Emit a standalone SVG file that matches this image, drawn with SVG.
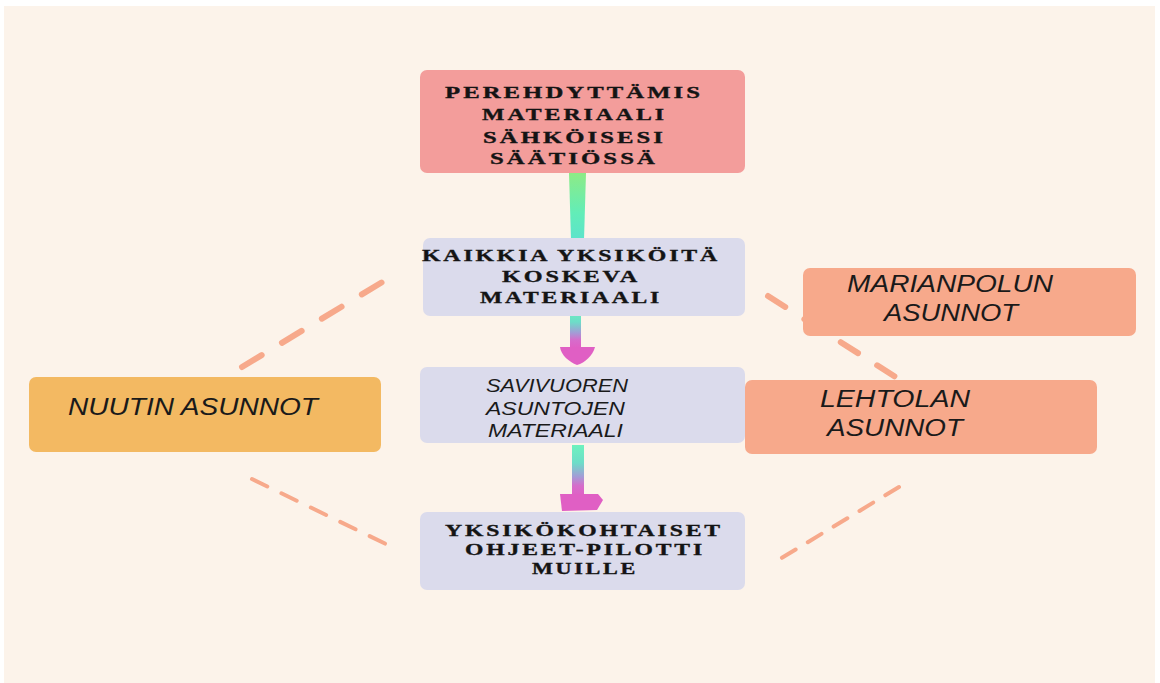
<svg xmlns="http://www.w3.org/2000/svg" width="1160" height="683" viewBox="0 0 1160 683">
  <defs>
    <linearGradient id="stemTop" x1="0" y1="0" x2="0" y2="1">
      <stop offset="0" stop-color="#8DEB86"/>
      <stop offset="0.6" stop-color="#62EDB8"/>
      <stop offset="1" stop-color="#5CE3CC"/>
    </linearGradient>
    <linearGradient id="stemPink" x1="0" y1="0" x2="0" y2="1">
      <stop offset="0" stop-color="#6EF2BE"/>
      <stop offset="0.35" stop-color="#6DDDC8"/>
      <stop offset="0.62" stop-color="#A39CD6"/>
      <stop offset="0.8" stop-color="#D66CCB"/>
      <stop offset="1" stop-color="#E05FC4"/>
    </linearGradient>
    <style>
      .page { fill: #FFFFFF; }
      .bg { fill: #FCF3EA; }
      .box-pink { fill: #F39D9B; }
      .box-lav { fill: #DBDBEC; }
      .box-orange { fill: #F3B962; }
      .box-salmon { fill: #F7A98B; }
      .serif { font-family: "Liberation Serif", "DejaVu Serif", serif; font-weight: bold; fill: #141414; stroke: #141414; stroke-width: 0.35; letter-spacing: 2px; }
      .hand { font-family: "Liberation Sans", "DejaVu Sans", sans-serif; font-style: italic; fill: #1A1A1A; }
      .dash-wide { fill: none; stroke: #F7A98B; stroke-width: 6; stroke-linecap: round; }
      .dash-thin { fill: none; stroke: #F7A98B; stroke-width: 4; stroke-linecap: round; }
    </style>
  </defs>

  <rect class="page" x="0" y="0" width="1160" height="683"/>
  <rect class="bg" x="4" y="6" width="1151" height="677"/>

  <!-- dashed connectors between the side groups and the main column -->
  <g id="connectors">
    <line class="dash-wide" x1="242" y1="367" x2="389" y2="278" stroke-dasharray="23 23.7"/>
    <line class="dash-thin" x1="252" y1="479" x2="390" y2="546" stroke-dasharray="17 15.7"/>
    <line class="dash-wide" x1="768" y1="296" x2="905" y2="383" stroke-dasharray="20.4 22.7"/>
    <line class="dash-thin" x1="899" y1="487" x2="780" y2="559" stroke-dasharray="16 14.2"/>

    <!-- flow arrows down the main column -->
    <path d="M569,173 L586,173 L584,240 L571,240 Z" fill="url(#stemTop)"/>
    <g>
      <path d="M570,308 L581,308 L581,348 L570,348 Z" fill="url(#stemPink)"/>
      <path d="M560,347 L595,347 C593,355 585,363 577,365 C569,362 561,355 560,347 Z" fill="#E05FC4"/>
    </g>
    <g>
      <path d="M572,445 L584,445 L584,496 L572,496 Z" fill="url(#stemPink)"/>
      <path d="M560,494 L598,494 L603,500 L597,510 L562,511 Z" fill="#E05FC4"/>
    </g>
  </g>

  <g id="node-perehdyttamis">
    <rect class="box-pink" x="420" y="70" width="325" height="103" rx="7"/>
    <text class="serif" font-size="16" x="445" y="98" textLength="258" lengthAdjust="spacingAndGlyphs">PEREHDYTTÄMIS</text>
    <text class="serif" font-size="16" x="482" y="120" textLength="185" lengthAdjust="spacingAndGlyphs">MATERIAALI</text>
    <text class="serif" font-size="16" x="483" y="143" textLength="183" lengthAdjust="spacingAndGlyphs">SÄHKÖISESI</text>
    <text class="serif" font-size="16" x="490" y="164" textLength="168" lengthAdjust="spacingAndGlyphs">SÄÄTIÖSSÄ</text>
  </g>

  <g id="node-kaikkia">
    <rect class="box-lav" x="423" y="238" width="322" height="78" rx="7"/>
    <text class="serif" font-size="17" x="422" y="261" textLength="298" lengthAdjust="spacingAndGlyphs">KAIKKIA YKSIKÖITÄ</text>
    <text class="serif" font-size="17" x="502" y="282" textLength="138" lengthAdjust="spacingAndGlyphs">KOSKEVA</text>
    <text class="serif" font-size="17" x="480" y="303" textLength="182" lengthAdjust="spacingAndGlyphs">MATERIAALI</text>
  </g>

  <g id="node-savivuoren">
    <rect class="box-lav" x="420" y="367" width="325" height="76" rx="7"/>
    <text class="hand" font-size="18" x="486" y="392" textLength="142" lengthAdjust="spacingAndGlyphs">SAVIVUOREN</text>
    <text class="hand" font-size="18" x="486" y="415" textLength="139" lengthAdjust="spacingAndGlyphs">ASUNTOJEN</text>
    <text class="hand" font-size="18" x="488" y="437" textLength="135" lengthAdjust="spacingAndGlyphs">MATERIAALI</text>
  </g>

  <g id="node-yksikokohtaiset">
    <rect class="box-lav" x="420" y="512" width="325" height="78" rx="7"/>
    <text class="serif" font-size="16.5" x="445" y="536" textLength="278" lengthAdjust="spacingAndGlyphs">YKSIKÖKOHTAISET</text>
    <text class="serif" font-size="16.5" x="465" y="555" textLength="240" lengthAdjust="spacingAndGlyphs">OHJEET-PILOTTI</text>
    <text class="serif" font-size="16.5" x="532" y="574" textLength="106" lengthAdjust="spacingAndGlyphs">MUILLE</text>
  </g>

  <g id="node-nuutin">
    <rect class="box-orange" x="29" y="377" width="352" height="75" rx="7"/>
    <text class="hand" font-size="23" x="68" y="415" textLength="250" lengthAdjust="spacingAndGlyphs">NUUTIN ASUNNOT</text>
  </g>

  <g id="node-marianpolun">
    <rect class="box-salmon" x="803" y="268" width="333" height="68" rx="7"/>
    <text class="hand" font-size="23" x="847" y="292" textLength="206" lengthAdjust="spacingAndGlyphs">MARIANPOLUN</text>
    <text class="hand" font-size="23" x="884" y="321" textLength="134" lengthAdjust="spacingAndGlyphs">ASUNNOT</text>
  </g>

  <g id="node-lehtolan">
    <rect class="box-salmon" x="745" y="380" width="352" height="74" rx="7"/>
    <text class="hand" font-size="23" x="820" y="407" textLength="150" lengthAdjust="spacingAndGlyphs">LEHTOLAN</text>
    <text class="hand" font-size="23" x="827" y="436" textLength="136" lengthAdjust="spacingAndGlyphs">ASUNNOT</text>
  </g>
</svg>
